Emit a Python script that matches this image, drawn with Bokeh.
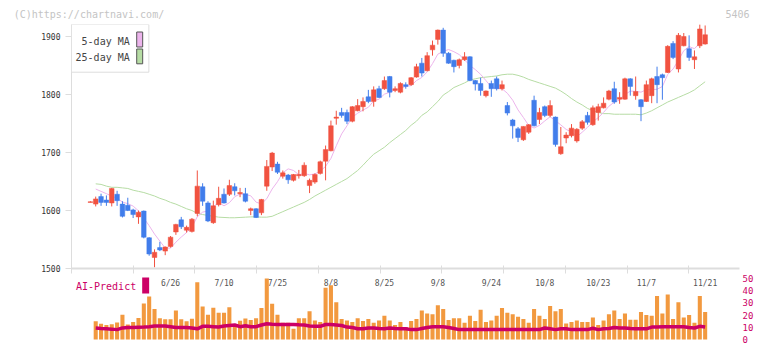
import numpy as np
from bokeh.plotting import figure
from bokeh.layouts import column
from bokeh.models import (Range1d, FixedTicker, Label, BoxAnnotation, ColumnDataSource,
                          LinearAxis, CustomJSTickFormatter)
from bokeh.embed import file_html
from bokeh.resources import INLINE
from bokeh.core.properties import value

# ---------------- data ----------------
day_index = list(range(-15, 101))

open_ = [1614, 1611, 1624, 1618, 1613, 1628, 1611, 1609, 1601, 1589,
         1599, 1553, 1519, 1536, 1530, 1538, 1563, 1584, 1566, 1564,
         1595, 1641, 1613, 1579, 1610, 1628, 1628, 1641, 1629, 1629,
         1600, 1603, 1596, 1642, 1675, 1680, 1659, 1661, 1652, 1660,
         1660, 1643, 1649, 1664, 1685, 1703, 1759, 1769, 1769, 1754,
         1772, 1779, 1796, 1788, 1810, 1810, 1831, 1807, 1804, 1817,
         1817, 1830, 1854, 1841, 1877, 1895, 1911, 1871, 1859, 1850,
         1860, 1865, 1824, 1819, 1798, 1819, 1827, 1810, 1781, 1756,
         1741, 1722, 1735, 1790, 1757, 1779, 1764, 1761, 1698, 1725,
         1729, 1720, 1742, 1764, 1748, 1769, 1777, 1792, 1810, 1792,
         1792, 1827, 1798, 1791, 1788, 1798, 1831, 1834, 1838, 1888,
         1844, 1884, 1879, 1860, 1884, 1887]
high = [1616, 1624, 1629, 1626, 1639, 1634, 1616, 1622, 1603, 1600,
        1600, 1554, 1533, 1546, 1538, 1556, 1577, 1589, 1574, 1587,
        1669, 1647, 1616, 1617, 1641, 1638, 1653, 1647, 1639, 1639,
        1605, 1604, 1620, 1687, 1701, 1684, 1669, 1663, 1663, 1670,
        1683, 1655, 1664, 1686, 1712, 1755, 1772, 1777, 1774, 1780,
        1792, 1795, 1808, 1814, 1815, 1831, 1832, 1814, 1821, 1821,
        1830, 1853, 1863, 1873, 1893, 1912, 1915, 1873, 1860, 1862,
        1873, 1866, 1825, 1829, 1807, 1824, 1831, 1824, 1787, 1758,
        1744, 1745, 1749, 1798, 1777, 1781, 1790, 1762, 1744, 1735,
        1749, 1742, 1756, 1770, 1781, 1784, 1795, 1808, 1822, 1804,
        1829, 1828, 1831, 1792, 1824, 1829, 1848, 1836, 1885, 1892,
        1906, 1906, 1902, 1876, 1921, 1919]
low = [1614, 1607, 1608, 1608, 1607, 1608, 1588, 1599, 1587, 1577,
       1552, 1522, 1502, 1530, 1523, 1536, 1558, 1568, 1562, 1562,
       1590, 1608, 1580, 1577, 1607, 1612, 1625, 1626, 1623, 1614,
       1592, 1587, 1592, 1634, 1668, 1663, 1655, 1646, 1650, 1655,
       1658, 1630, 1646, 1662, 1652, 1702, 1748, 1760, 1749, 1752,
       1771, 1771, 1785, 1779, 1794, 1808, 1795, 1804, 1802, 1810,
       1815, 1829, 1831, 1840, 1867, 1886, 1865, 1853, 1838, 1845,
       1858, 1823, 1807, 1798, 1795, 1796, 1807, 1807, 1764, 1724,
       1718, 1720, 1732, 1745, 1749, 1761, 1761, 1710, 1696, 1716,
       1726, 1717, 1739, 1748, 1746, 1755, 1776, 1790, 1784, 1784,
       1791, 1798, 1791, 1754, 1787, 1785, 1785, 1791, 1837, 1861,
       1838, 1883, 1858, 1844, 1880, 1886]
close = [1615, 1620, 1614, 1614, 1638, 1617, 1590, 1600, 1593, 1597,
         1554, 1525, 1528, 1532, 1537, 1554, 1576, 1572, 1571, 1585,
         1642, 1616, 1582, 1608, 1621, 1613, 1643, 1634, 1631, 1616,
         1603, 1588, 1619, 1676, 1699, 1666, 1665, 1653, 1662, 1662,
         1678, 1652, 1662, 1684, 1705, 1746, 1761, 1764, 1754, 1779,
         1781, 1788, 1788, 1808, 1795, 1824, 1804, 1810, 1819, 1814,
         1829, 1848, 1837, 1867, 1885, 1911, 1871, 1854, 1848, 1860,
         1865, 1824, 1818, 1807, 1806, 1810, 1810, 1817, 1768, 1746,
         1726, 1745, 1748, 1746, 1769, 1764, 1781, 1714, 1710, 1730,
         1742, 1740, 1753, 1752, 1777, 1779, 1785, 1806, 1787, 1795,
         1827, 1814, 1805, 1779, 1817, 1827, 1817, 1829, 1883, 1864,
         1902, 1900, 1864, 1865, 1913, 1903]

# moving averages, volume and AI-Predict start at the second session
ma_index = day_index[1:]
ma5 = [1637, 1633, 1629, 1625, 1621, 1614.6, 1611.8, 1607.6, 1599.4, 1586.8,
       1573.8, 1559.4, 1547.2, 1535.2, 1535.2, 1545.4, 1554.2, 1562, 1571.6, 1589.2,
       1597.2, 1599.2, 1606.6, 1613.8, 1608, 1613.4, 1623.8, 1628.4, 1627.4, 1625.4,
       1614.4, 1611.4, 1620.4, 1637, 1649.6, 1665, 1671.8, 1669, 1661.6, 1664,
       1661.4, 1663.2, 1667.6, 1676.2, 1689.8, 1711.6, 1732, 1746, 1760.8, 1767.8,
       1773.2, 1778, 1788.8, 1792, 1800.6, 1803.8, 1808.2, 1810.4, 1814.2, 1815.2,
       1824, 1829.4, 1839, 1853.2, 1869.6, 1874.2, 1877.6, 1873.8, 1868.8, 1859.6,
       1850.2, 1843, 1834.8, 1824, 1813, 1810.2, 1810, 1802.2, 1790.2, 1773.4,
       1760.4, 1746.6, 1742.2, 1746.8, 1754.4, 1761.6, 1754.8, 1747.6, 1739.8, 1735.4,
       1727.2, 1735, 1743.4, 1752.8, 1760.2, 1769.2, 1779.8, 1786.8, 1790.4, 1800,
       1805.8, 1805.6, 1804, 1808.4, 1808.4, 1809, 1813.8, 1834.6, 1844, 1859,
       1875.6, 1882.6, 1879, 1888.8, 1889]
ma25 = [1646, 1645, 1642, 1640, 1640, 1639, 1638, 1635, 1633, 1631,
        1628, 1625, 1621, 1618, 1614, 1611, 1607, 1603, 1600, 1595,
        1593, 1591.5, 1590, 1588.5, 1588, 1587.5, 1587.5, 1588, 1588.5, 1589,
        1589, 1588.5, 1588.5, 1590, 1594, 1598, 1602, 1606, 1610, 1614,
        1619, 1625, 1630, 1635, 1640, 1645, 1650, 1655, 1662, 1669,
        1678, 1688, 1697, 1703, 1709, 1717, 1724, 1731, 1738, 1747,
        1754, 1764, 1770, 1779, 1788, 1799, 1805, 1812, 1816, 1820,
        1825, 1827, 1829, 1830, 1831, 1832, 1834, 1835, 1835, 1833,
        1830, 1826, 1823, 1820, 1817, 1814, 1811, 1806, 1800, 1793,
        1787, 1782, 1776, 1772, 1769, 1767, 1767, 1766, 1766, 1766,
        1766, 1766, 1765, 1768, 1772, 1777, 1782, 1787, 1791, 1795,
        1799, 1803, 1808, 1815, 1822]
volume = [15, 12.9, 11.9, 12.5, 14, 20.2, 12.3, 14.4, 17.7, 29.6,
          35.2, 25, 17.5, 16.5, 16.5, 23.8, 16.5, 15, 17, 46.9,
          27, 20.2, 26, 21.9, 22, 26.5, 11, 15.4, 17.3, 16,
          17.5, 25.8, 50, 29.4, 20.2, 13.75, 13.75, 8.75, 17.5, 17.5,
          23.1, 15.6, 14.4, 42.5, 44.4, 30.6, 16.9, 15.6, 14.4, 17.5,
          15.2, 16.9, 13.75, 15.6, 19.4, 15.6, 11.9, 14.4, 10.2, 15.2,
          16.9, 23.75, 21.25, 20.6, 28.1, 25, 16, 17.5, 17.5, 13.75,
          19.4, 15.2, 24.4, 14.4, 15.6, 19.4, 25.8, 21.9, 20.6, 18.75,
          16.9, 13.75, 25, 19.4, 16.9, 27.5, 23.1, 25, 13.1, 14.4,
          15.6, 14.4, 14.4, 18.1, 11.9, 15.6, 20.6, 23.75, 16.9, 21.25,
          16.25, 16.25, 22.5, 20, 19.4, 35.6, 21.25, 36.9, 16.9, 30.6,
          18.1, 20, 13.75, 35.6, 22.5]
ai_predict = [9.4, 9.0, 8.75, 8.5, 8.1, 9.5, 9.8, 9.8, 10.0, 10.2,
              10.5, 11, 11, 11, 10.5, 9.8, 9.8, 9.8, 9.5, 8.75,
              10.8, 10.8, 10.5, 10.2, 11, 11.5, 11.9, 10.5, 11.25, 10.4,
              10.5, 11.9, 12.9, 12.5, 12.3, 12.3, 12.3, 12.3, 12.0, 11.9,
              11, 10.8, 10.8, 12.3, 12.3, 11.9, 11.5, 10.2, 9.8, 8.75,
              8.75, 9.4, 9.4, 9.0, 8.75, 9.4, 9.0, 8.75, 8.75, 8.1,
              8.1, 9.0, 9.8, 10.4, 10.4, 10.4, 9.8, 9.0, 8.1, 8.1,
              8.1, 8.1, 8.1, 8.1, 8.1, 8.1, 8.1, 8.1, 8.1, 8.1,
              8.1, 8.1, 8.1, 8.1, 9.4, 8.75, 8.1, 8.75, 8.75, 8.1,
              8.1, 8.1, 8.1, 9.2, 8.1, 8.75, 9.0, 9.8, 9.4, 9.4,
              9.0, 8.75, 8.75, 8.75, 10.2, 10.2, 10.5, 10.5, 10.5, 10.5,
              10.5, 9.8, 9.4, 10.8, 10.2]

date_labels = ["6/26", "7/10", "7/25", "8/8", "8/25", "9/8", "9/24", "10/8", "10/23", "11/7", "11/21"]
date_index = [0, 10, 20, 30, 40, 50, 60, 70, 80, 89, 100]

price_ticks = [1500, 1600, 1700, 1800, 1900]
volume_ticks = [0, 10, 20, 30, 40, 50]
watermark = "(C)https://chartnavi.com/"
code_text = "5406"

# ---------------- layout constants (pixels) ----------------
W = 756
FRAME_L, FRAME_R = 71, 742
DAY0_PX, PX_PER_DAY = 170.5, 5.37
X0 = (FRAME_L - DAY0_PX) / PX_PER_DAY
X1 = (FRAME_R - DAY0_PX) / PX_PER_DAY
MAIN_TOP, MAIN_BOT = 24, 268
PX_PER_YEN = 0.58
Y0 = 1500
Y1 = Y0 + (MAIN_BOT - MAIN_TOP) / PX_PER_YEN
H1 = 274
LOW_TOP, LOW_BOT = H1, 345
V_ZERO_PX, V_FIFTY_PX = 339, 278
PX_PER_V = (V_ZERO_PX - V_FIFTY_PX) / 50.0
V1 = 50 + (V_FIFTY_PX - LOW_TOP) / PX_PER_V
V0 = -(LOW_BOT - V_ZERO_PX) / PX_PER_V
TICK_STEP_PX = 62.0


def xd(px):
    return X0 + (px - FRAME_L) / PX_PER_DAY


def yd(py):
    return Y0 + (MAIN_BOT - py) / PX_PER_YEN


def yv(py):
    return V1 - (py - LOW_TOP) / PX_PER_V


MONO = "DejaVu Sans Mono"
UP, DOWN = "#f15240", "#417deb"
PINK, GREEN = "#ecb4ec", "#b6dca4"
MAGENTA = "#cc0066"
ORANGE = "#f2993f"
AXIS_GRAY = "#dddddd"

# ---------------- main chart ----------------
x_range = Range1d(X0, X1)
p = figure(width=W, height=H1, x_range=x_range, y_range=Range1d(Y0, Y1),
           output_backend="svg", toolbar_location=None,
           min_border_left=FRAME_L, min_border_right=W - FRAME_R,
           min_border_top=MAIN_TOP, min_border_bottom=H1 - MAIN_BOT)
p.outline_line_color = None
p.grid.visible = False
p.background_fill_color = "white"
p.border_fill_color = "white"

p.yaxis.ticker = FixedTicker(ticks=price_ticks)
p.yaxis.axis_line_color = AXIS_GRAY
p.yaxis.major_tick_line_color = AXIS_GRAY
p.yaxis.major_tick_out = 6
p.yaxis.major_tick_in = 0
p.yaxis.minor_tick_line_color = None
p.yaxis.major_label_text_font = MONO
p.yaxis.major_label_text_font_size = "8px"
p.yaxis.major_label_text_color = "#333333"
p.yaxis.major_label_standoff = 5

n_ticks = int((FRAME_R - FRAME_L) // TICK_STEP_PX) + 1
xt = [X0 + k * TICK_STEP_PX / PX_PER_DAY for k in range(n_ticks)]
p.xaxis.ticker = FixedTicker(ticks=xt)
p.xaxis.formatter = CustomJSTickFormatter(code="return ''")
p.xaxis.axis_line_color = AXIS_GRAY
p.xaxis.axis_line_width = 2
p.xaxis.major_tick_line_color = AXIS_GRAY
p.xaxis.major_tick_line_width = 1
p.xaxis.major_tick_in = 3
p.xaxis.major_tick_out = 5
p.xaxis.minor_tick_line_color = None
p.xaxis.major_label_standoff = 0

# watermark / code line above the frame, as labels of an extra axis
wm_x = round(xd(88.5), 2)
code_x = round(xd(740), 2)
top_axis = LinearAxis(ticker=FixedTicker(ticks=[wm_x, code_x]),
                      major_label_overrides={wm_x: watermark, code_x: code_text},
                      axis_line_color=None, major_tick_line_color=None,
                      minor_tick_line_color=None, major_tick_out=0, major_tick_in=0,
                      major_label_standoff=5, major_label_text_font=MONO,
                      major_label_text_font_size="10px",
                      major_label_text_color="#c4c4c4")
p.add_layout(top_axis, "above")

colors = [UP if c >= o else DOWN for o, c in zip(open_, close)]
src = ColumnDataSource(dict(x=day_index, o=open_, h=high, l=low, c=close,
                            top=[max(o, c) for o, c in zip(open_, close)],
                            bot=[min(o, c) for o, c in zip(open_, close)],
                            color=colors))

p.line(ma_index, ma25, line_color=GREEN, line_width=1)
p.line(ma_index, ma5, line_color=PINK, line_width=1)
p.segment(x0="x", y0="l", x1="x", y1="h", line_color="color", line_width=1, source=src)
p.vbar(x="x", top="top", bottom="bot", width=0.86, fill_color="color", line_color="color",
       line_width=0.5, source=src)

# legend box
p.add_layout(BoxAnnotation(left=xd(71), right=xd(148.7), top=yd(24), bottom=yd(71.7),
                           fill_color="white", fill_alpha=1, line_color=AXIS_GRAY,
                           line_alpha=1, line_width=1))
p.add_layout(Label(x=xd(129.5), y=yd(40.5), text="5-day MA", text_align="right",
                   text_baseline="middle", text_font=MONO, text_font_size="10px",
                   text_color="#444444"))
p.add_layout(Label(x=xd(129.5), y=yd(57.2), text="25-day MA", text_align="right",
                   text_baseline="middle", text_font=MONO, text_font_size="10px",
                   text_color="#444444"))
p.add_layout(BoxAnnotation(left=xd(136.5), right=xd(142.5), top=yd(31.5), bottom=yd(46.5),
                           fill_color=PINK, fill_alpha=1, line_color="#555555",
                           line_alpha=1, line_width=1))
p.add_layout(BoxAnnotation(left=xd(136.5), right=xd(142.5), top=yd(48.5), bottom=yd(63.3),
                           fill_color=GREEN, fill_alpha=1, line_color="#555555",
                           line_alpha=1, line_width=1))

# ---------------- lower panel ----------------
q = figure(width=W, height=LOW_BOT - LOW_TOP, x_range=x_range, y_range=Range1d(V0, V1),
           output_backend="svg", toolbar_location=None,
           x_axis_location=None, y_axis_location="right",
           min_border_left=FRAME_L, min_border_right=W - FRAME_R,
           min_border_top=0, min_border_bottom=0)
q.outline_line_color = None
q.grid.visible = False
q.background_fill_color = "white"
q.border_fill_color = "white"
q.yaxis.ticker = FixedTicker(ticks=volume_ticks)
q.yaxis.axis_line_color = None
q.yaxis.major_tick_line_color = None
q.yaxis.minor_tick_line_color = None
q.yaxis.major_tick_out = 0
q.yaxis.major_tick_in = 0
q.yaxis.major_label_text_font = MONO
q.yaxis.major_label_text_font_size = "9px"
q.yaxis.major_label_text_color = MAGENTA
q.yaxis.major_label_standoff = 3

q.text(x=date_index, y=[yv(283)] * len(date_index), text=date_labels,
       text_align="center", text_baseline="middle", text_font=value(MONO),
       text_font_size="8px", text_color="#555555")
q.vbar(x=ma_index, top=volume, bottom=0, width=0.76, fill_color=ORANGE, line_color=None)
q.line(ma_index, ai_predict, line_color=MAGENTA, line_width=3.5)

q.add_layout(Label(x=xd(75.5), y=yv(286), text="AI-Predict", text_baseline="middle",
                   text_font=MONO, text_font_size="10px", text_color=MAGENTA))
q.add_layout(BoxAnnotation(left=xd(142), right=xd(149), top=yv(277), bottom=yv(293),
                           fill_color=MAGENTA, fill_alpha=1, line_color=None))

layout = column(p, q, spacing=0)
open("out.html", "w").write(file_html(layout, INLINE))
